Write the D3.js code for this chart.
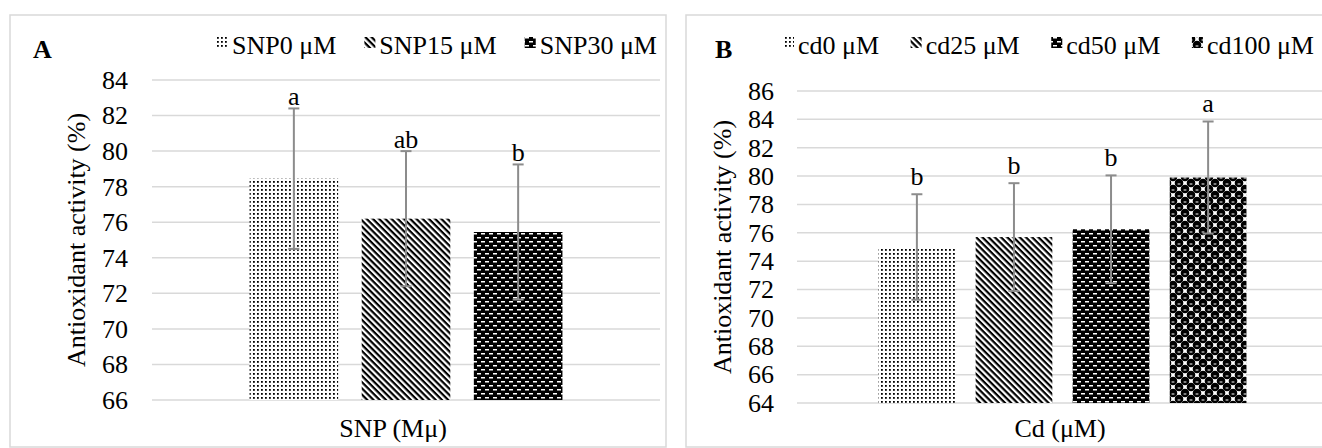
<!DOCTYPE html>
<html>
<head>
<meta charset="utf-8">
<script src="https://cdn.jsdelivr.net/npm/d3@7"></script>
<style>
  body { margin: 0; background: #fff; }
  svg text { fill: #000; }
</style>
</head>
<body>
<div id="chart"></div>
<script>
/**
 * DATA
 * */
const snpGroups = ["SNP0 μM", "SNP15 μM", "SNP30 μM"];
const snpMeans = [78.45, 76.2, 75.45];
const snpErrors = [3.95, 3.8, 3.8];
const snpLetters = ["a", "ab", "b"];
const snpTicks = [66, 68, 70, 72, 74, 76, 78, 80, 82, 84];

const cdGroups = ["cd0 μM", "cd25 μM", "cd50 μM", "cd100 μM"];
const cdMeans = [75.0, 75.7, 76.25, 79.9];
const cdErrors = [3.72, 3.8, 3.8, 3.95];
const cdLetters = ["b", "b", "b", "a"];
const cdTicks = [64, 66, 68, 70, 72, 74, 76, 78, 80, 82, 84, 86];

/**
 * CONSTANTS
 * */
const width = 1322, height = 448;
const fontSize = 26;
const fontFamily = "'Liberation Serif', 'Times New Roman', Times, 'DejaVu Serif', 'Noto Serif', serif";

const svg = d3.select("#chart")
  .append("svg")
  .attr("width", width)
  .attr("height", height)
  .attr("font-family", fontFamily)
  .style("font-family", fontFamily);

// fill patterns, like the ones Excel uses
const defs = svg.append("defs");

const dots = defs.append("pattern")
  .attr("id", "pat0").attr("patternUnits", "userSpaceOnUse")
  .attr("width", 4).attr("height", 4);
dots.append("rect").attr("width", 4).attr("height", 4).attr("fill", "#fff");
dots.append("rect").attr("x", 1).attr("y", 1).attr("width", 1.8).attr("height", 1.8).attr("fill", "#000");

const stripes = defs.append("pattern")
  .attr("id", "pat1").attr("patternUnits", "userSpaceOnUse")
  .attr("width", 8).attr("height", 4.4)
  .attr("patternTransform", "rotate(45)");
stripes.append("rect").attr("width", 8).attr("height", 4.4).attr("fill", "#fff");
stripes.append("rect").attr("width", 8).attr("height", 2.2).attr("fill", "#000");

const dashes = defs.append("pattern")
  .attr("id", "pat2").attr("patternUnits", "userSpaceOnUse")
  .attr("width", 8).attr("height", 8);
dashes.append("rect").attr("width", 8).attr("height", 8).attr("fill", "#000");
dashes.append("rect").attr("x", 1).attr("y", 1).attr("width", 4).attr("height", 1.5).attr("fill", "#fff");
dashes.append("rect").attr("x", 5).attr("y", 5).attr("width", 4).attr("height", 1.5).attr("fill", "#fff");
dashes.append("rect").attr("x", -3).attr("y", 5).attr("width", 4).attr("height", 1.5).attr("fill", "#fff");

const spheres = defs.append("pattern")
  .attr("id", "pat3").attr("patternUnits", "userSpaceOnUse")
  .attr("width", 12).attr("height", 12);
spheres.append("rect").attr("width", 12).attr("height", 12).attr("fill", "#fff");
[[3, 3], [9, 9], [9, -3], [-3, 9], [15, 3], [3, 15], [15, 15], [-3, -3]].forEach(([cx, cy]) => {
  spheres.append("circle").attr("cx", cx).attr("cy", cy).attr("r", 4.3).attr("fill", "#000");
  spheres.append("rect").attr("x", cx - 1.4).attr("y", cy + 0.5).attr("width", 2.8).attr("height", 1).attr("fill", "#fff");
});

const patterns = ["url(#pat0)", "url(#pat1)", "url(#pat2)", "url(#pat3)"];

/**
 * PANELS
 * */
const panels = [
  {
    label: "A", xTitle: "SNP (Mμ)",
    groups: snpGroups, means: snpMeans, errors: snpErrors, letters: snpLetters, ticks: snpTicks,
    box: [10, 15, 656, 432],
    plotX: [152, 660], plotY: [400, 80],
    padOuter: 0.87, letterGap: 3,
    tickX: 128, yTitleX: 85, xTitleX: 393, legend: [217, 657], letterX: 33
  },
  {
    label: "B", xTitle: "Cd (μM)",
    groups: cdGroups, means: cdMeans, errors: cdErrors, letters: cdLetters, ticks: cdTicks,
    box: [686, 15, 660, 432],
    plotX: [797, 1328], plotY: [403, 91],
    padOuter: 0.84, letterGap: 9,
    tickX: 774, yTitleX: 731, xTitleX: 1060, legend: [783, 1314], letterX: 715
  }
];

panels.forEach(drawPanel);

function drawPanel(p) {
  const g = svg.append("g");

  g.append("rect")
    .attr("x", p.box[0]).attr("y", p.box[1])
    .attr("width", p.box[2]).attr("height", p.box[3])
    .attr("fill", "#fff")
    .attr("stroke", "#d9d9d9")
    .attr("stroke-width", 1.5);

  const y = d3.scaleLinear()
    .domain([p.ticks[0], p.ticks[p.ticks.length - 1]])
    .range(p.plotY);

  const x = d3.scaleBand()
    .domain(p.groups)
    .range(p.plotX)
    .paddingInner(0.21)
    .paddingOuter(p.padOuter);

  // gridlines
  g.selectAll(".grid")
    .data(p.ticks)
    .join("line")
    .attr("class", "grid")
    .attr("x1", p.plotX[0]).attr("x2", p.plotX[1])
    .attr("y1", d => y(d)).attr("y2", d => y(d))
    .attr("stroke", "#d9d9d9")
    .attr("stroke-width", 1.5);

  // y tick labels
  g.selectAll(".tick")
    .data(p.ticks)
    .join("text")
    .attr("class", "tick")
    .attr("x", p.tickX)
    .attr("y", d => y(d))
    .attr("dy", "0.34em")
    .attr("text-anchor", "end")
    .attr("font-size", fontSize)
    .text(d => d);

  const data = p.groups.map((name, i) => ({
    name, mean: p.means[i], err: p.errors[i], letter: p.letters[i], fill: patterns[i]
  }));

  // bars
  g.selectAll(".bar")
    .data(data)
    .join("rect")
    .attr("class", "bar")
    .attr("x", d => x(d.name))
    .attr("width", x.bandwidth())
    .attr("y", d => y(d.mean))
    .attr("height", d => y(p.ticks[0]) - y(d.mean))
    .attr("fill", d => d.fill);

  // error bars
  const cx = d => x(d.name) + x.bandwidth() / 2;
  const eb = g.selectAll(".err")
    .data(data)
    .join("g")
    .attr("class", "err")
    .attr("stroke", "#8c8c8c")
    .attr("stroke-width", 2);
  eb.append("line")
    .attr("x1", cx).attr("x2", cx)
    .attr("y1", d => y(d.mean - d.err))
    .attr("y2", d => y(d.mean + d.err));
  eb.append("line")
    .attr("x1", d => cx(d) - 5.5).attr("x2", d => cx(d) + 5.5)
    .attr("y1", d => y(d.mean + d.err))
    .attr("y2", d => y(d.mean + d.err));
  eb.append("line")
    .attr("x1", d => cx(d) - 5.5).attr("x2", d => cx(d) + 5.5)
    .attr("y1", d => y(d.mean - d.err))
    .attr("y2", d => y(d.mean - d.err));

  // significance letters
  g.selectAll(".letter")
    .data(data)
    .join("text")
    .attr("class", "letter")
    .attr("x", cx)
    .attr("y", d => y(d.mean + d.err) - p.letterGap)
    .attr("text-anchor", "middle")
    .attr("font-size", fontSize)
    .text(d => d.letter);

  // axis titles
  g.append("text")
    .attr("x", p.xTitleX)
    .attr("y", 437)
    .attr("text-anchor", "middle")
    .attr("font-size", fontSize)
    .text(p.xTitle);

  g.append("text")
    .attr("transform", `translate(${p.yTitleX},${(p.plotY[0] + p.plotY[1]) / 2}) rotate(-90)`)
    .attr("text-anchor", "middle")
    .attr("font-size", fontSize)
    .text("Antioxidant activity (%)");

  g.append("text")
    .attr("x", p.letterX)
    .attr("y", 58)
    .attr("font-size", fontSize)
    .attr("font-weight", "bold")
    .text(p.label);

  // legend, spread between its start and end
  const items = g.selectAll(".leg")
    .data(data)
    .join("g")
    .attr("class", "leg");
  items.append("text")
    .attr("y", 54)
    .attr("font-size", fontSize)
    .text(d => d.name);
  items.append("rect")
    .attr("y", 37)
    .attr("width", 11)
    .attr("height", 11)
    .attr("fill", d => d.fill);

  const widths = items.nodes().map(n => d3.select(n).select("text").node().getComputedTextLength() + 15);
  const gap = (p.legend[1] - p.legend[0] - d3.sum(widths)) / (widths.length - 1);
  let pos = p.legend[0];
  items.each(function(d, i) {
    d3.select(this).select("rect").attr("x", pos);
    d3.select(this).select("text").attr("x", pos + 15);
    pos += widths[i] + gap;
  });
}
</script>
</body>
</html>
